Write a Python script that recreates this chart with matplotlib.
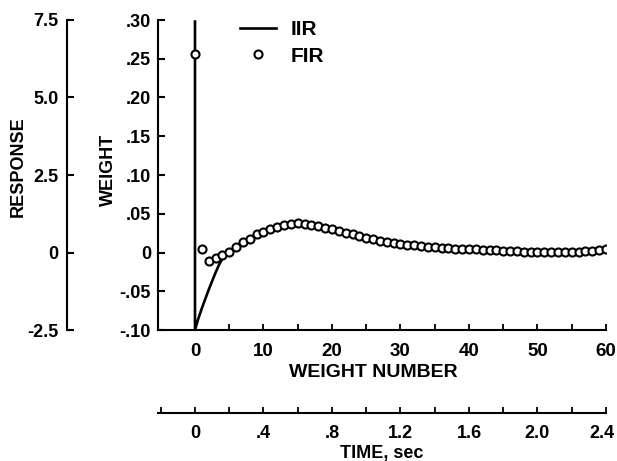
import numpy as np
import matplotlib.pyplot as plt
from matplotlib.lines import Line2D
from matplotlib.transforms import ScaledTranslation

# FIR weights
fir_n = np.arange(61)
fir_w = [0.256, 0.0045, -0.0105, -0.0075, -0.003, 0.001, 0.0075, 0.013, 0.018, 0.0235,
         0.027, 0.030, 0.033, 0.0355, 0.037, 0.0377, 0.037, 0.0355, 0.034, 0.032,
         0.030, 0.0277, 0.0256, 0.0235, 0.0213, 0.019, 0.017, 0.0152, 0.0135, 0.0127,
         0.011, 0.010, 0.0093, 0.0084, 0.0075, 0.0067, 0.0062, 0.0054, 0.005, 0.0045,
         0.004, 0.004, 0.0036, 0.0032, 0.0028, 0.0023, 0.002, 0.0015, 0.001, 0.0008,
         0.0006, 0.0004, 0.0002, 0.0002, 0.0002, 0.0002, 0.0005, 0.0015, 0.0023, 0.0035,
         0.005]

# IIR response: impulse at 0, then rising curve that merges with the FIR dots
iir_n = [0, 0, 0.5, 1.0, 1.5, 2.0, 2.5, 3.0, 3.5, 4.0, 4.5]
iir_w = [0.298, -0.10, -0.085, -0.072, -0.060, -0.048, -0.037, -0.026, -0.016, -0.008, -0.002]

w_ticks = [-0.10, -0.05, 0, 0.05, 0.10, 0.15, 0.20, 0.25, 0.30]
w_labels = ["-.10", "-.05", "0", ".05", ".10", ".15", ".20", ".25", ".30"]
r_ticks = [-2.5, 0, 2.5, 5.0, 7.5]
r_labels = ["-2.5", "0", "2.5", "5.0", "7.5"]
t_ticks = [0, 0.4, 0.8, 1.2, 1.6, 2.0, 2.4]
t_labels = ["0", ".4", ".8", "1.2", "1.6", "2.0", "2.4"]
sec_per_weight = 0.04

plt.rcParams["font.family"] = ["Liberation Sans", "DejaVu Sans"]
plt.rcParams["font.weight"] = "bold"
fs = 13

fig = plt.figure(figsize=(6.17, 4.61), dpi=100)
ax = fig.add_axes([158 / 617, 1 - 330 / 461, 448 / 617, 310 / 461])

ax.plot(iir_n, iir_w, color="black", lw=1.9, zorder=2)
ax.plot(fir_n, fir_w, "o", ms=5.8, mfc="white", mec="black", mew=1.5, zorder=3)

ax.set_xlim(-5.4, 60)
ax.set_ylim(-0.10, 0.30)
for s in ["top", "right"]:
    ax.spines[s].set_visible(False)
for s in ["left", "bottom"]:
    ax.spines[s].set_linewidth(1.5)

ax.set_yticks(w_ticks)
ax.set_yticklabels(w_labels, fontsize=fs, fontweight="bold")
ax.set_xticks(np.arange(0, 61, 10))
ax.set_xticks(np.arange(5, 60, 10), minor=True)
ax.set_xticklabels([str(v) for v in range(0, 61, 10)], fontsize=13.5, fontweight="bold")
ax.tick_params(axis="y", direction="in", length=5, width=1.5, pad=5)
ax.tick_params(axis="x", which="both", direction="in", length=4, width=1.3, pad=9)
ax.set_xlabel("WEIGHT NUMBER", fontsize=14, fontweight="bold")
ax.xaxis.set_label_coords((373 - 158) / 448, (330 - 372) / 310)
ax.xaxis.label.set_va("center")
ax.set_ylabel("WEIGHT", fontsize=fs, fontweight="bold")
ax.yaxis.set_label_coords((108 - 158) / 448, (330 - 170) / 310)
ax.yaxis.label.set_va("center")

# response axis further to the left
ax2 = ax.twinx()
ax2.set_ylim(-2.5, 7.5)
ax2.spines["right"].set_visible(False)
ax2.spines["top"].set_visible(False)
ax2.spines["bottom"].set_visible(False)
ax2.spines["left"].set_visible(True)
ax2.spines["left"].set_position(("axes", (67 - 158) / 448))
ax2.spines["left"].set_linewidth(1.5)
ax2.yaxis.set_ticks_position("left")
ax2.yaxis.set_label_position("left")
ax2.set_yticks(r_ticks)
ax2.set_yticklabels(r_labels, fontsize=fs, fontweight="bold")
ax2.tick_params(axis="y", direction="in", length=5, width=1.5, pad=6)
ax2.set_ylabel("RESPONSE", fontsize=fs, fontweight="bold")
ax2.yaxis.set_label_coords((18 - 158) / 448, (330 - 167) / 310)
ax2.yaxis.label.set_va("center")

# time axis below
tax = ax.secondary_xaxis((330 - 412.7) / 310,
                         functions=(lambda n: n * sec_per_weight,
                                    lambda t: t / sec_per_weight))
tax.spines["bottom"].set_linewidth(1.5)
tax.set_xticks(t_ticks)
tax.set_xticks(np.arange(-0.2, 2.4, 0.4), minor=True)
tax.set_xticklabels(t_labels, fontsize=13, fontweight="bold")
tax.tick_params(axis="x", which="both", direction="in", length=4, width=1.3, pad=9)
tax.set_xlabel("TIME, sec", fontsize=fs, fontweight="bold", labelpad=2)

# keep the last time label inside the figure edge
last = tax.get_xticklabels()[-1]
last.set_transform(last.get_transform() + ScaledTranslation(-3 / 72, 0, fig.dpi_scale_trans))

handles = [Line2D([], [], color="black", lw=1.9),
           Line2D([], [], ls="none", marker="o", ms=5.8, mfc="white", mec="black", mew=1.5)]
ax.legend(handles, ["IIR", "FIR"], loc="upper left", bbox_to_anchor=(232 / 617, 1 - 12 / 461),
          bbox_transform=fig.transFigure, frameon=False, fontsize=15,
          handlelength=1.7, handletextpad=0.7, labelspacing=0.35, borderaxespad=0)

fig.savefig("out.png", dpi=100)
